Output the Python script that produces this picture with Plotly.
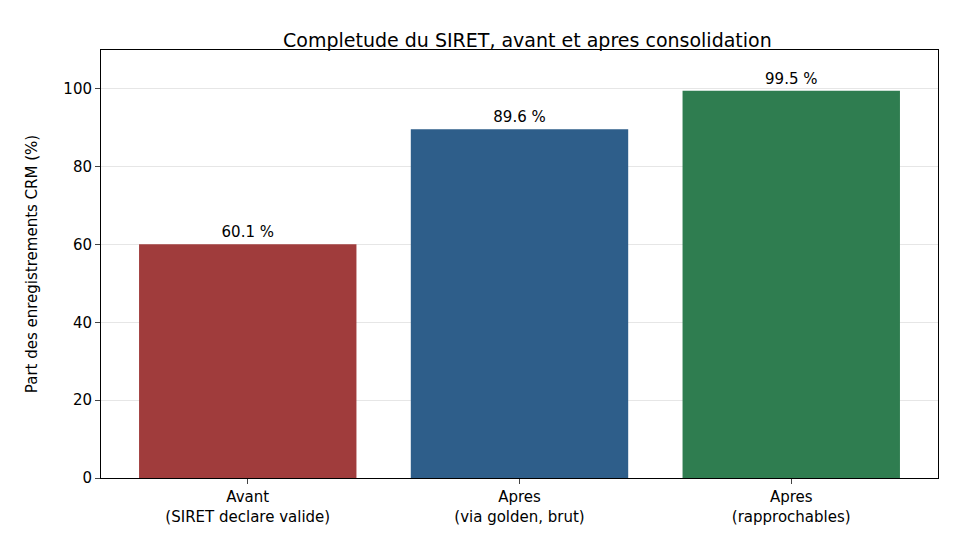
import plotly.graph_objects as go

categories = ["Avant<br>(SIRET declare valide)", "Apres<br>(via golden, brut)", "Apres<br>(rapprochables)"]
values = [60.1, 89.6, 99.5]
colors = ["#a03c3c", "#2e5e8a", "#2f7d50"]

fig = go.Figure(go.Bar(
    x=[0, 1, 2], y=values, width=0.8,
    marker=dict(color=colors, line=dict(width=0)),
    text=["%.1f %%" % v for v in values], textposition="outside",
    textfont=dict(size=15, color="black"), cliponaxis=False,
))

fig.update_layout(
    width=980, height=560,
    margin=dict(l=93, r=50, t=42, b=90),
    plot_bgcolor="white", paper_bgcolor="white",
    font=dict(family="DejaVu Sans", size=14, color="black"),
    title=dict(text="Completude du SIRET, avant et apres consolidation",
               x=0.53, xanchor="center", y=0.955, font=dict(size=19)),
    showlegend=False,
    xaxis=dict(range=[-0.54, 2.54], tickvals=[0, 1, 2], ticktext=categories,
               showline=True, linecolor="black", mirror=True, ticks="outside",
               tickfont=dict(size=15), showgrid=False),
    yaxis=dict(range=[0, 110], dtick=20, showline=True, linecolor="black", mirror=True,
               ticks="outside", gridcolor="#e6e6e6", zeroline=False,
               tickfont=dict(size=15), title_standoff=22,
               title=dict(text="Part des enregistrements CRM (%)", font=dict(size=15))),
)

fig.write_html("out.html")
